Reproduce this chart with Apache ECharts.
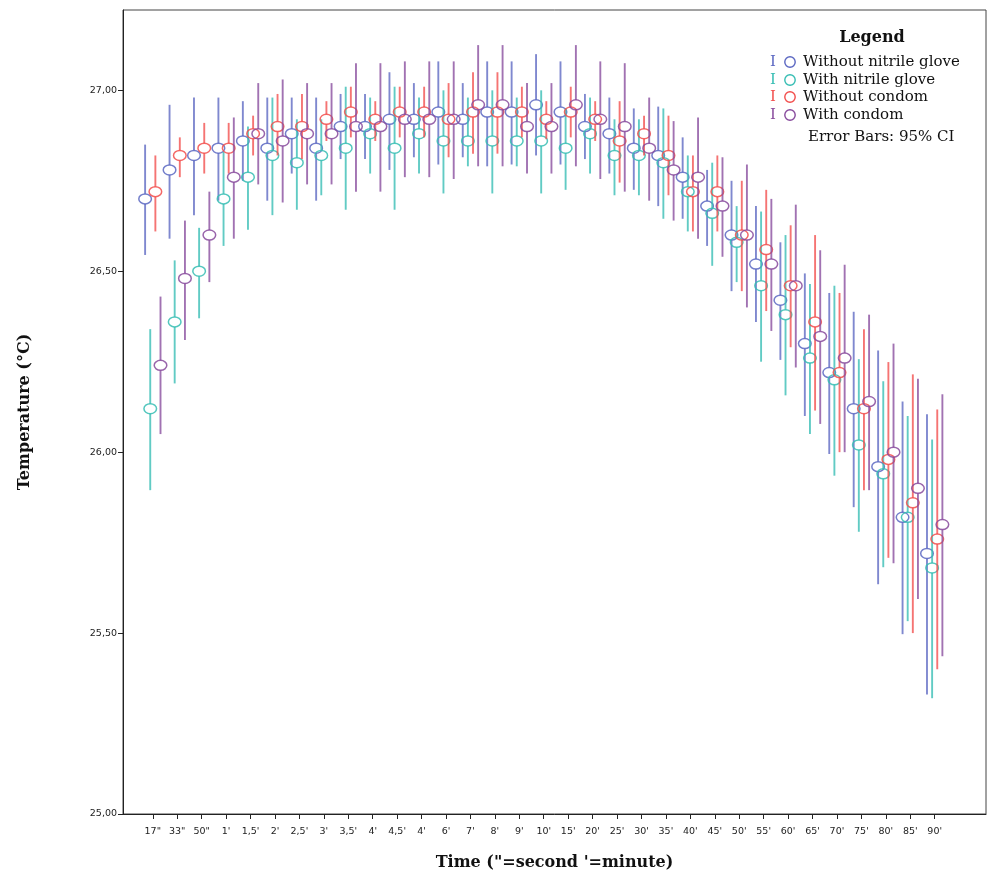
<!DOCTYPE html>
<html><head><meta charset="utf-8">
<script src="https://cdn.jsdelivr.net/npm/echarts@6/dist/echarts.min.js"></script>
<style>html,body{margin:0;padding:0;background:#fff}#c{width:989px;height:876px}</style>
</head><body><div id="c"></div>
<script>
const categories = ['17"','33"','50"',"1'","1,5'","2'","2,5'","3'","3,5'","4'","4,5'","4'","6'","7'","8'","9'","10'","15'","20'","25'","30'","35'","40'","45'","50'","55'","60'","65'","70'","75'","80'","85'","90'"];
const yTicks = [25.0, 25.5, 26.0, 26.5, 27.0];
const seriesNames = ['Without nitrile glove','With nitrile glove','Without condom','With condom'];

const noGloveMean = [26.70,26.78,26.82,26.84,26.86,26.84,26.88,26.84,26.90,26.90,26.92,26.92,26.94,26.92,26.94,26.94,26.96,26.94,26.90,26.88,26.84,26.82,26.76,26.68,26.60,26.52,26.42,26.30,26.22,26.12,25.96,25.82,25.72];
const noGloveLow  = [26.545,26.59,26.655,26.695,26.75,26.695,26.77,26.695,26.81,26.81,26.78,26.815,26.795,26.815,26.79,26.795,26.82,26.795,26.81,26.77,26.725,26.68,26.645,26.57,26.445,26.36,26.255,26.10,25.995,25.848,25.635,25.497,25.33];
const noGloveHigh = [26.85,26.96,26.98,26.98,26.97,26.98,26.98,26.98,26.99,26.99,27.05,27.02,27.08,27.02,27.08,27.08,27.10,27.08,26.99,26.98,26.95,26.955,26.87,26.78,26.75,26.68,26.58,26.494,26.44,26.388,26.281,26.14,26.105];

const gloveMean = [26.12,26.36,26.50,26.70,26.76,26.82,26.80,26.82,26.84,26.88,26.84,26.88,26.86,26.86,26.86,26.86,26.86,26.84,26.88,26.82,26.82,26.80,26.72,26.66,26.58,26.46,26.38,26.26,26.20,26.02,25.94,25.82,25.68];
const gloveLow  = [25.895,26.19,26.37,26.57,26.615,26.655,26.67,26.71,26.67,26.77,26.67,26.77,26.715,26.79,26.715,26.79,26.715,26.725,26.77,26.71,26.71,26.645,26.61,26.515,26.47,26.25,26.157,26.05,25.935,25.78,25.682,25.533,25.32];
const gloveHigh = [26.34,26.53,26.62,26.83,26.90,26.98,26.92,26.92,27.01,26.98,27.01,26.98,27.00,26.98,27.00,26.98,27.00,26.95,26.98,26.92,26.92,26.95,26.82,26.80,26.68,26.665,26.60,26.465,26.46,26.257,26.196,26.10,26.035];

const noCondomMean = [26.72,26.82,26.84,26.84,26.88,26.90,26.90,26.92,26.94,26.92,26.94,26.94,26.92,26.94,26.94,26.94,26.92,26.94,26.92,26.86,26.88,26.82,26.72,26.72,26.60,26.56,26.46,26.36,26.22,26.12,25.98,25.86,25.76];
const noCondomLow  = [26.61,26.76,26.77,26.77,26.82,26.82,26.81,26.86,26.87,26.86,26.87,26.87,26.815,26.825,26.825,26.87,26.865,26.87,26.86,26.745,26.82,26.71,26.61,26.61,26.445,26.39,26.29,26.115,26.00,25.895,25.708,25.50,25.40];
const noCondomHigh = [26.82,26.87,26.91,26.91,26.93,26.99,26.99,26.97,27.01,26.97,27.01,27.01,27.02,27.05,27.05,27.01,26.97,27.01,26.97,26.97,26.93,26.93,26.82,26.82,26.75,26.725,26.627,26.60,26.44,26.34,26.249,26.215,26.118];

const condomMean = [26.24,26.48,26.60,26.76,26.88,26.86,26.88,26.88,26.90,26.90,26.92,26.92,26.92,26.96,26.96,26.90,26.90,26.96,26.92,26.90,26.84,26.78,26.76,26.68,26.60,26.52,26.46,26.32,26.26,26.14,26.00,25.90,25.80];
const condomLow  = [26.05,26.31,26.47,26.59,26.74,26.69,26.74,26.74,26.72,26.72,26.76,26.76,26.755,26.79,26.79,26.77,26.77,26.79,26.755,26.72,26.695,26.64,26.59,26.54,26.40,26.335,26.234,26.078,26.00,25.895,25.693,25.594,25.436];
const condomHigh = [26.43,26.64,26.72,26.925,27.02,27.03,27.02,27.02,27.075,27.075,27.08,27.08,27.08,27.125,27.125,27.02,27.02,27.125,27.08,27.075,26.98,26.915,26.925,26.815,26.795,26.70,26.684,26.558,26.518,26.38,26.30,26.203,26.16];

const colors = ['#5b67c2','#35bdb3','#f24d4b','#874a9c'];
const slotOffset = [-0.315,-0.105,0.105,0.315];
const RX = 6.3, RY = 5;

function makeSeries(idx, mean, low, high) {
  const color = colors[idx];
  return {
    type: 'custom',
    name: seriesNames[idx],
    data: categories.map((c, i) => [i, mean[i], low[i], high[i]]),
    encode: { x: 0, y: [1, 2, 3] },
    renderItem: function (params, api) {
      const x = api.value(0) + slotOffset[idx];
      const pm = api.coord([x, api.value(1)]);
      const pl = api.coord([x, api.value(2)]);
      const ph = api.coord([x, api.value(3)]);
      const ls = { stroke: color, lineWidth: 1.9, opacity: 0.78 };
      return {
        type: 'group',
        children: [
          { type: 'line', shape: { x1: pm[0], y1: ph[1], x2: pm[0], y2: Math.max(ph[1], pm[1] - RY) }, style: ls },
          { type: 'line', shape: { x1: pm[0], y1: Math.min(pl[1], pm[1] + RY), x2: pm[0], y2: pl[1] }, style: ls },
          { type: 'ellipse', shape: { cx: pm[0], cy: pm[1], rx: RX, ry: RY }, style: { fill: 'none', stroke: color, lineWidth: 1.5, opacity: 0.85 } }
        ]
      };
    }
  };
}

const chart = echarts.init(document.getElementById('c'), null, { renderer: 'canvas' });
const legendX = 773, legendRows = [62, 80, 97, 115];
const graphics = [
  { type: 'text', x: 872, y: 38, style: { text: 'Legend', font: 'bold 16px "DejaVu Serif"', fill: '#111', align: 'center', verticalAlign: 'middle' } }
];
legendRows.forEach((y, i) => {
  graphics.push({ type: 'text', x: legendX, y: y, style: { text: 'I', font: '15px "DejaVu Serif"', fill: colors[i], align: 'center', verticalAlign: 'middle' } });
  graphics.push({ type: 'circle', shape: { cx: legendX + 17, cy: y, r: 5.2 }, style: { fill: 'none', stroke: colors[i], lineWidth: 1.4 } });
  graphics.push({ type: 'text', x: legendX + 30, y: y, style: { text: seriesNames[i], font: '15px "DejaVu Serif"', fill: '#111', verticalAlign: 'middle' } });
});
graphics.push({ type: 'text', x: 808, y: 137, style: { text: 'Error Bars: 95% CI', font: '15px "DejaVu Serif"', fill: '#111', verticalAlign: 'middle' } });

chart.setOption({
  animation: false,
  backgroundColor: '#fff',
  grid: { left: 123, right: 3, top: 10, bottom: 56, show: true, borderColor: '#444', borderWidth: 1 },
  xAxis: {
    type: 'value',
    min: -1.22, max: 34.1,
    name: 'Time ("=second \'=minute)',
    nameLocation: 'middle', nameGap: 41,
    nameTextStyle: { fontFamily: 'DejaVu Serif', fontWeight: 'bold', fontSize: 16, color: '#111' },
    axisLine: { show: true, onZero: false, lineStyle: { color: '#222', width: 1 } },
    axisTick: { show: true, length: 5, lineStyle: { color: '#222' }, customValues: categories.map((c, i) => i) },
    axisLabel: { customValues: categories.map((c, i) => i), formatter: v => categories[Math.round(v)], fontFamily: 'DejaVu Sans', fontSize: 9.5, color: '#222', margin: 13 },
    splitLine: { show: false }
  },
  yAxis: {
    type: 'value',
    min: 25, max: 27.222, interval: 0.5,
    name: 'Temperature (°C)',
    nameLocation: 'middle', nameGap: 90,
    nameTextStyle: { fontFamily: 'DejaVu Serif', fontWeight: 'bold', fontSize: 16, color: '#111' },
    axisLine: { show: true, onZero: false, lineStyle: { color: '#222', width: 1 } },
    axisTick: { show: true, length: 5, lineStyle: { color: '#222' }, customValues: yTicks },
    axisLabel: { customValues: yTicks, formatter: v => v.toFixed(2).replace('.', ','), fontFamily: 'DejaVu Sans', fontSize: 9.5, color: '#222', margin: 6 },
    splitLine: { show: false }
  },
  graphic: graphics,
  series: [
    makeSeries(0, noGloveMean, noGloveLow, noGloveHigh),
    makeSeries(1, gloveMean, gloveLow, gloveHigh),
    makeSeries(2, noCondomMean, noCondomLow, noCondomHigh),
    makeSeries(3, condomMean, condomLow, condomHigh)
  ]
});
</script>
</body></html>
